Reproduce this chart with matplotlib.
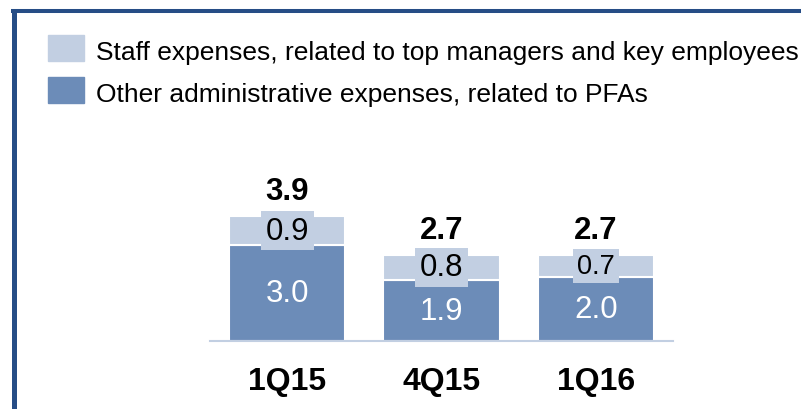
import matplotlib
matplotlib.use('Agg')
from matplotlib import pyplot as plt
from matplotlib.lines import Line2D
from matplotlib.patches import Rectangle

# data
quarters = ['1Q15', '4Q15', '1Q16']
other_admin = [3.0, 1.9, 2.0]     # dark segment
staff_exp = [0.9, 0.8, 0.7]       # light segment
totals = [3.9, 2.7, 2.7]
legend_labels = ['Staff expenses, related to top managers and key employees',
                 'Other administrative expenses, related to PFAs']

light = '#C2CFE2'
dark = '#6C8CB8'
frame = '#264D86'

plt.rcParams['font.family'] = ['Liberation Sans', 'DejaVu Sans']

W, H = 801, 410
fig = plt.figure(figsize=(W / 100, H / 100), dpi=100)

# axes placed by pixel coords (baseline at y=342 from top)
ax = fig.add_axes([210 / W, (H - 342) / H, 463 / W, 160 / H])
ax.set_xlim(-0.5, 2.5)
ax.set_ylim(0, 5)
x = list(range(len(quarters)))
ax.bar(x, other_admin, width=0.753, color=dark, edgecolor='white', linewidth=1.5)
ax.bar(x, staff_exp, bottom=other_admin, width=0.753, color=light,
       edgecolor='white', linewidth=1.5)

for i in x:
    ax.text(i, other_admin[i] / 2, f'{other_admin[i]:.1f}', ha='center', va='center',
            fontsize=22.5, color='white')
    fs = 19.5 if i == 2 else 22.5
    ax.text(i, other_admin[i] + staff_exp[i] / 2, f'{staff_exp[i]:.1f}', ha='center',
            va='center', fontsize=fs, color='black',
            bbox=dict(boxstyle='square,pad=0.15', fc=light, ec='none'))
    ax.annotate(f'{totals[i]:.1f}', (i, totals[i]), xytext=(0, 18),
                textcoords='offset points', ha='center', va='center',
                fontsize=22.5, fontweight='bold')
    ax.text(i, -1.25, quarters[i], ha='center', va='center', fontsize=23,
            fontweight='bold')

for s in ['top', 'right', 'left']:
    ax.spines[s].set_visible(False)
ax.spines['bottom'].set_color(light)
ax.spines['bottom'].set_linewidth(1.5)
ax.set_xticks([])
ax.set_yticks([])
ax.patch.set_alpha(0)

# legend drawn by hand
for k, (col, lab) in enumerate(zip([light, dark], legend_labels)):
    top = 36 + k * 42
    fig.add_artist(Rectangle((48 / W, 1 - (top + 26) / H), 36 / W, 26 / H,
                             transform=fig.transFigure, color=col))
    fig.text(96 / W, 1 - (60 + k * 42) / H, lab, fontsize=19, va='baseline')

# dark blue frame on left and top
fig.add_artist(Line2D([13.5 / W, 13.5 / W], [0, 1 - 10 / H], color=frame,
                      linewidth=3.6, transform=fig.transFigure, solid_capstyle='butt'))
fig.add_artist(Line2D([11 / W, 1], [1 - 11.5 / H, 1 - 11.5 / H], color=frame,
                      linewidth=2.9, transform=fig.transFigure, solid_capstyle='butt'))

fig.savefig('out.png', dpi=100)
